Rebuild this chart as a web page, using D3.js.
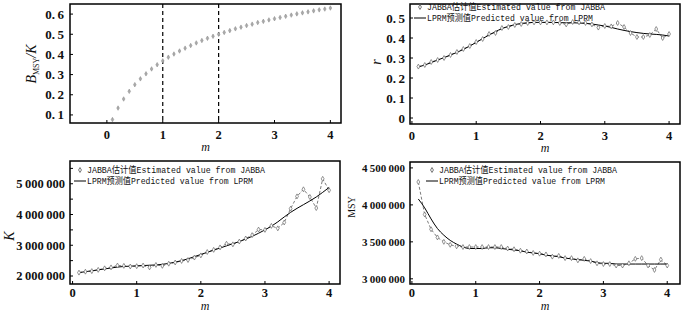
<!DOCTYPE html>
<html>
<head>
<meta charset="utf-8">
<script src="https://cdn.jsdelivr.net/npm/d3@7"></script>
<style>
    body { margin: 0; background: #fff; }
    svg { display: block; }
    .tick-label { font-family: 'Liberation Serif', 'DejaVu Serif', serif; font-weight: bold; fill: #111; white-space: pre; }
    .legend-text { font-family: 'Liberation Mono', 'Noto Sans CJK SC', monospace; font-size: 9.5px; fill: #111; }
    .axis-label { font-family: 'Liberation Serif', 'DejaVu Serif', serif; fill: #111; }
</style>
</head>
<body>
<svg id="chart" width="700" height="314"></svg>
<script>
const mValues = [0.1, 0.2, 0.3, 0.4, 0.5, 0.6, 0.7, 0.8, 0.9, 1.0,
    1.1, 1.2, 1.3, 1.4, 1.5, 1.6, 1.7, 1.8, 1.9, 2.0,
    2.1, 2.2, 2.3, 2.4, 2.5, 2.6, 2.7, 2.8, 2.9, 3.0,
    3.1, 3.2, 3.3, 3.4, 3.5, 3.6, 3.7, 3.8, 3.9, 4.0]

const bmsyK = [0.077, 0.134, 0.179, 0.217, 0.250, 0.279, 0.304, 0.328, 0.349, 0.368,
    0.386, 0.402, 0.417, 0.431, 0.444, 0.457, 0.469, 0.480, 0.490, 0.500,
    0.509, 0.518, 0.527, 0.535, 0.543, 0.550, 0.558, 0.564, 0.571, 0.577,
    0.583, 0.589, 0.595, 0.601, 0.606, 0.611, 0.616, 0.621, 0.625, 0.630]

const rJabba = [0.257, 0.265, 0.28, 0.29, 0.30, 0.315, 0.33, 0.345, 0.36, 0.38,
    0.395, 0.42, 0.425, 0.45, 0.455, 0.465, 0.47, 0.475, 0.478, 0.478,
    0.478, 0.478, 0.475, 0.468, 0.48, 0.478, 0.475, 0.468, 0.452, 0.46,
    0.458, 0.475, 0.455, 0.425, 0.405, 0.405, 0.415, 0.445, 0.40, 0.42]
const rLprm = [0.255, 0.265, 0.277, 0.29, 0.302, 0.315, 0.328, 0.343, 0.36, 0.378,
    0.397, 0.415, 0.432, 0.447, 0.458, 0.467, 0.473, 0.476, 0.478, 0.478,
    0.478, 0.478, 0.477, 0.476, 0.476, 0.475, 0.473, 0.47, 0.465, 0.46,
    0.453, 0.445, 0.438, 0.432, 0.427, 0.423, 0.42, 0.418, 0.415, 0.41]

const kJabba = [2110000, 2140000, 2160000, 2200000, 2250000, 2280000, 2340000, 2330000, 2310000, 2320000,
    2340000, 2280000, 2360000, 2330000, 2400000, 2440000, 2490000, 2520000, 2600000, 2670000,
    2780000, 2850000, 2930000, 3050000, 3030000, 3120000, 3220000, 3330000, 3510000, 3500000,
    3630000, 3550000, 3740000, 4190000, 4590000, 4820000, 4570000, 4210000, 5160000, 4790000]
const kLprm = [2110000, 2140000, 2170000, 2200000, 2230000, 2260000, 2290000, 2310000, 2320000, 2330000,
    2340000, 2350000, 2360000, 2380000, 2410000, 2450000, 2500000, 2560000, 2630000, 2700000,
    2770000, 2840000, 2910000, 2980000, 3050000, 3120000, 3200000, 3290000, 3390000, 3500000,
    3620000, 3760000, 3920000, 4070000, 4200000, 4320000, 4440000, 4570000, 4720000, 4880000]

const msyJabba = [4310000, 3870000, 3670000, 3560000, 3500000, 3460000, 3440000, 3430000, 3430000, 3430000,
    3430000, 3430000, 3430000, 3430000, 3410000, 3400000, 3380000, 3370000, 3350000, 3340000,
    3330000, 3300000, 3310000, 3280000, 3280000, 3250000, 3270000, 3240000, 3210000, 3200000,
    3200000, 3180000, 3180000, 3210000, 3270000, 3280000, 3180000, 3120000, 3260000, 3180000]
const msyLprm = [4080000, 3960000, 3810000, 3680000, 3590000, 3520000, 3470000, 3430000, 3410000, 3410000,
    3410000, 3420000, 3420000, 3410000, 3400000, 3390000, 3380000, 3360000, 3350000, 3340000,
    3320000, 3310000, 3300000, 3280000, 3270000, 3260000, 3250000, 3240000, 3220000, 3210000,
    3210000, 3200000, 3200000, 3200000, 3200000, 3200000, 3200000, 3200000, 3200000, 3200000]

const xTicks = [0, 1, 2, 3, 4]
const bmsyTicks = [0.1, 0.2, 0.3, 0.4, 0.5, 0.6]
const rTicks = [0, 0.1, 0.2, 0.3, 0.4, 0.5]
const kTicks = [2000000, 3000000, 4000000, 5000000]
const kMinorTicks = [2500000, 3500000, 4500000, 5500000]
const msyTicks = [3000000, 3500000, 4000000, 4500000]
const legendLabels = ['JABBA估计值Estimated value from JABBA', 'LPRM预测值Predicted value from LPRM']

const svg = d3.select('#chart')

const fmtDec = d => d3.format('.1f')(d).replace('.', '.\u2009')
const fmtBig = d => d3.format(',')(d).replace(/,/g, '\u2009')

function drawPanel(cfg) {
    const x = d3.scaleLinear().domain(cfg.xDomain).range([cfg.left, cfg.right])
    const y = d3.scaleLinear().domain(cfg.yDomain).range([cfg.bottom, cfg.top])
    const g = svg.append('g')

    // tick marks (inward)
    g.selectAll('.xt').data(xTicks).join('line')
        .attr('x1', d => x(d)).attr('x2', d => x(d))
        .attr('y1', cfg.bottom).attr('y2', cfg.bottom - 3)
        .attr('stroke', '#000').attr('stroke-width', 1)
    g.selectAll('.yt').data(cfg.yTicks.concat(cfg.yMinor || [])).join('line')
        .attr('x1', cfg.left).attr('x2', cfg.left + 3)
        .attr('y1', d => y(d)).attr('y2', d => y(d))
        .attr('stroke', '#000').attr('stroke-width', 1)

    g.selectAll('.xl').data(xTicks).join('text')
        .attr('class', 'tick-label')
        .attr('x', d => x(d)).attr('y', cfg.bottom + cfg.xLabelGap)
        .attr('text-anchor', 'middle')
        .style('font-size', '12.5px')
        .text(d => d)
    g.selectAll('.yl').data(cfg.yTicks).join('text')
        .attr('class', 'tick-label')
        .attr('x', cfg.left - cfg.yLabelGap).attr('y', d => y(d))
        .attr('dy', '0.35em')
        .attr('text-anchor', 'end')
        .style('font-size', cfg.yFont)
        .text(cfg.yFormat)

    const clipId = 'clip' + cfg.left + '_' + cfg.top
    svg.append('clipPath').attr('id', clipId).append('rect')
        .attr('x', cfg.left).attr('y', cfg.top)
        .attr('width', cfg.right - cfg.left).attr('height', cfg.bottom - cfg.top)
    const plot = g.append('g').attr('clip-path', `url(#${clipId})`)

    cfg.draw(plot, x, y)

    g.append('rect')
        .attr('x', cfg.left).attr('y', cfg.top)
        .attr('width', cfg.right - cfg.left).attr('height', cfg.bottom - cfg.top)
        .attr('fill', 'none').attr('stroke', '#000').attr('stroke-width', 1.5)

    g.append('text')
        .attr('class', 'axis-label')
        .attr('x', (cfg.left + cfg.right) / 2).attr('y', cfg.bottom + cfg.mGap)
        .attr('text-anchor', 'middle')
        .style('font-size', '12px').style('font-style', 'italic')
        .text('m')

    if (cfg.legend) {
        const lx = cfg.legend[0], ly = cfg.legend[1]
        g.append('path')
            .attr('d', d3.symbol(d3.symbolDiamond, 7)())
            .attr('transform', `translate(${lx}, ${ly})`)
            .attr('fill', '#fff').attr('stroke', '#555').attr('stroke-width', 0.8)
        g.append('text').attr('class', 'legend-text')
            .attr('x', lx + 7).attr('y', ly).attr('dy', '0.35em')
            .attr('textLength', 178).attr('lengthAdjust', 'spacingAndGlyphs')
            .text(legendLabels[0])
        g.append('line')
            .attr('x1', lx - 6).attr('x2', lx + 6)
            .attr('y1', ly + 11).attr('y2', ly + 11)
            .attr('stroke', '#000').attr('stroke-width', 1)
        g.append('text').attr('class', 'legend-text')
            .attr('x', lx + 7).attr('y', ly + 11).attr('dy', '0.35em')
            .attr('textLength', 166).attr('lengthAdjust', 'spacingAndGlyphs')
            .text(legendLabels[1])
    }
    return { x, y }
}

function drawCompare(jabba, lprm) {
    return (plot, x, y) => {
        plot.append('path')
            .datum(mValues)
            .attr('fill', 'none').attr('stroke', '#444').attr('stroke-width', 0.7)
            .attr('stroke-dasharray', '3,2')
            .attr('d', d3.line().x(d => x(d)).y((d, i) => y(jabba[i])))
        plot.append('path')
            .datum(mValues)
            .attr('fill', 'none').attr('stroke', '#000').attr('stroke-width', 1)
            .attr('d', d3.line().curve(d3.curveMonotoneX).x(d => x(d)).y((d, i) => y(lprm[i])))
        plot.selectAll('.pt').data(mValues).join('path')
            .attr('d', d3.symbol(d3.symbolDiamond, 7)())
            .attr('transform', (d, i) => `translate(${x(d)}, ${y(jabba[i])})`)
            .attr('fill', '#fff').attr('stroke', '#666').attr('stroke-width', 0.7)
    }
}

// panel 1: BMSY/K
drawPanel({
    left: 70, right: 341, top: 4, bottom: 123,
    xDomain: [-0.66, 4.19], yDomain: [0.06, 0.65],
    yTicks: bmsyTicks, yFormat: fmtDec, yFont: '13px',
    xLabelGap: 16, yLabelGap: 6, mGap: 28,
    draw: (plot, x, y) => {
        plot.selectAll('.vl').data([1, 2]).join('line')
            .attr('x1', d => x(d)).attr('x2', d => x(d))
            .attr('y1', 4).attr('y2', 123)
            .attr('stroke', '#000').attr('stroke-width', 1.2)
            .attr('stroke-dasharray', '4,3')
        plot.selectAll('.pt').data(mValues).join('path')
            .attr('d', d3.symbol(d3.symbolDiamond, 6)())
            .attr('transform', (d, i) => `translate(${x(d)}, ${y(bmsyK[i])})`)
            .attr('fill', '#aaa').attr('stroke', '#888').attr('stroke-width', 0.5)
    }
})

// panel 2: r
drawPanel({
    left: 410, right: 680, top: 4, bottom: 124,
    xDomain: [-0.03, 4.17], yDomain: [-0.03, 0.57],
    yTicks: rTicks, yFormat: d => d === 0 ? '0' : fmtDec(d), yFont: '13px',
    xLabelGap: 16, yLabelGap: 5, mGap: 28,
    legend: [420, 7],
    draw: drawCompare(rJabba, rLprm)
})

// panel 3: K
drawPanel({
    left: 70, right: 340, top: 161, bottom: 284,
    xDomain: [-0.04, 4.17], yDomain: [1740000, 5740000],
    yTicks: kTicks, yMinor: kMinorTicks, yFormat: fmtBig, yFont: '12.5px',
    xLabelGap: 13, yLabelGap: 5, mGap: 26,
    legend: [80, 170],
    draw: drawCompare(kJabba, kLprm)
})

// panel 4: MSY
drawPanel({
    left: 410, right: 680, top: 162, bottom: 284,
    xDomain: [-0.03, 4.2], yDomain: [2930000, 4580000],
    yTicks: msyTicks, yFormat: fmtBig, yFont: '11px',
    xLabelGap: 13, yLabelGap: 5, mGap: 26,
    legend: [432, 170],
    draw: drawCompare(msyJabba, msyLprm)
})

// y axis titles
const bLabel = svg.append('text')
    .attr('class', 'axis-label')
    .attr('transform', 'translate(36, 64) rotate(-90)')
    .attr('text-anchor', 'middle')
    .style('font-size', '14px')
bLabel.append('tspan').style('font-style', 'italic').text('B')
bLabel.append('tspan').attr('dy', 3).style('font-size', '8px').text('MSY')
bLabel.append('tspan').attr('dy', -3).style('font-style', 'italic').text('/K')

svg.append('text')
    .attr('class', 'axis-label')
    .attr('transform', 'translate(381, 62) rotate(-90)')
    .attr('text-anchor', 'middle')
    .style('font-size', '14px').style('font-style', 'italic')
    .text('r')

svg.append('text')
    .attr('class', 'axis-label')
    .attr('transform', 'translate(14, 236) rotate(-90)')
    .attr('text-anchor', 'middle')
    .style('font-size', '14px').style('font-style', 'italic')
    .text('K')

svg.append('text')
    .attr('class', 'axis-label')
    .attr('transform', 'translate(355, 207) rotate(-90)')
    .attr('text-anchor', 'middle')
    .style('font-size', '10px')
    .text('MSY')
</script>
</body>
</html>
